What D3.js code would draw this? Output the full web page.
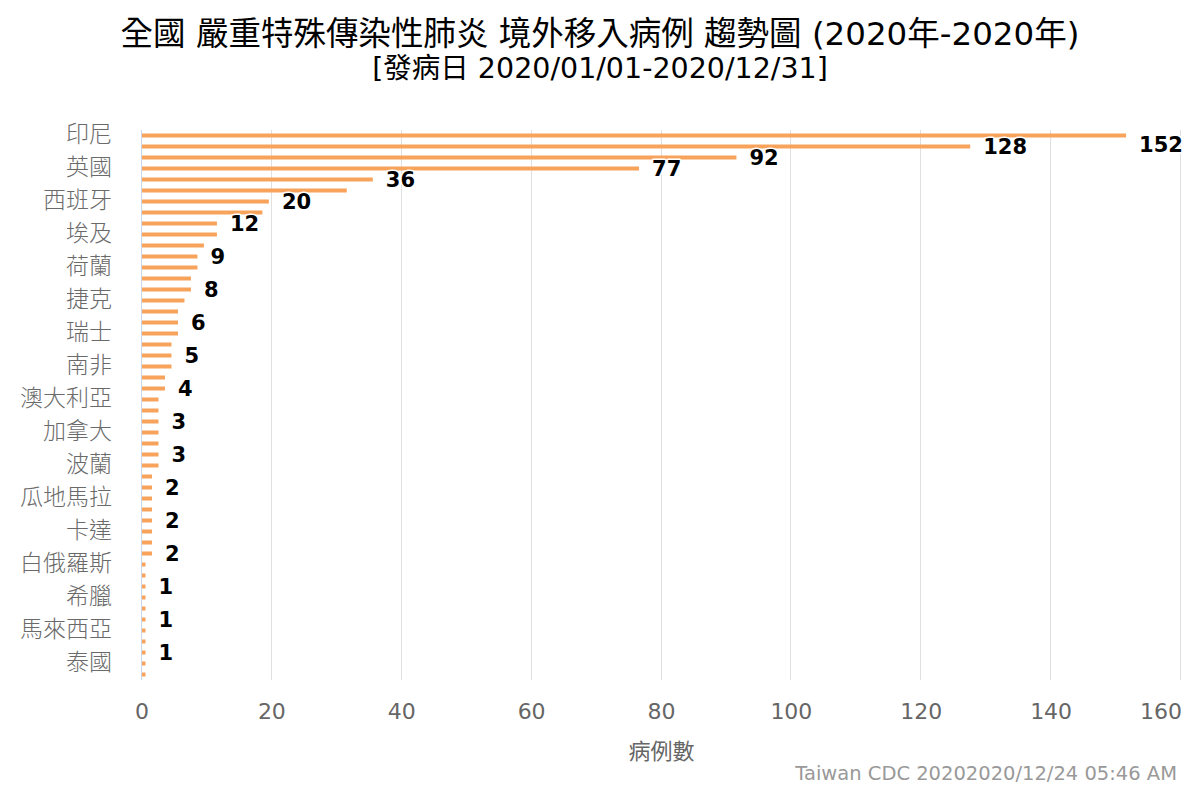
<!DOCTYPE html>
<html>
<head>
<meta charset="utf-8">
<script src="https://cdn.jsdelivr.net/npm/d3@7"></script>
<style>
  body { margin: 0; background: #fff; }
  text { font-family: "DejaVu Sans", "Noto Sans CJK TC", sans-serif; }
</style>
</head>
<body>
<svg width="1200" height="800"></svg>
<script>
// countries, sorted by imported cases (only every 3rd name is shown on the axis)
var countries = ["印尼","美國","菲律賓","英國","法國","印度","西班牙","日本","土耳其","埃及",
  "德國","巴基斯坦","荷蘭","瑞典","俄羅斯","捷克","巴西","比利時","瑞士","烏克蘭",
  "墨西哥","南非","越南","阿聯","澳大利亞","義大利","奧地利","加拿大","緬甸","巴拿馬",
  "波蘭","柬埔寨","孟加拉","瓜地馬拉","哥倫比亞","秘魯","卡達","匈牙利","愛爾蘭","白俄羅斯",
  "新加坡","紐西蘭","希臘","葡萄牙","以色列","馬來西亞","阿根廷","厄瓜多","泰國","韓國"];
var cases = [152,128,92,77,36,32,20,19,12,12,
  10,9,9,8,8,7,6,6,6,5,
  5,5,4,4,3,3,3,3,3,3,
  3,2,2,2,2,2,2,2,2,1,
  1,1,1,1,1,1,1,1,1,1];
var xTicks = [0,20,40,60,80,100,120,140,160];

var titleText = "全國 嚴重特殊傳染性肺炎 境外移入病例 趨勢圖 (2020年-2020年)";
var subtitleText = "[發病日 2020/01/01-2020/12/31]";
var xTitle = "病例數";
var credit = "Taiwan CDC 20202020/12/24 05:46 AM";

var svg = d3.select("svg");
var plotLeft = 142, plotRight = 1181, plotTop = 130, plotBottom = 680;

var x = d3.scaleLinear().domain([0, 160]).range([plotLeft, plotRight]);
var y = d3.scaleBand().domain(countries).range([plotTop, plotBottom]);

// titles
svg.append("text")
  .attr("x", 600).attr("y", 34)
  .attr("text-anchor", "middle").attr("dominant-baseline", "central")
  .attr("font-size", "32.5px").attr("fill", "#000")
  .text(titleText);
svg.append("text")
  .attr("x", 600).attr("y", 68)
  .attr("text-anchor", "middle").attr("dominant-baseline", "central")
  .attr("font-size", "28.5px").attr("fill", "#000")
  .text(subtitleText);

// grid lines, snapped to whole pixels
svg.append("g")
  .selectAll("line")
  .data(xTicks.slice(1))
  .enter()
  .append("line")
  .attr("x1", function(d) { return Math.round(x(d)) - 0.5; })
  .attr("x2", function(d) { return Math.round(x(d)) - 0.5; })
  .attr("y1", plotTop).attr("y2", plotBottom)
  .attr("stroke", "#e0e0e0").attr("stroke-width", 1);

// x tick labels (last one pulled back inside the chart)
svg.append("g")
  .selectAll("text")
  .data(xTicks)
  .enter()
  .append("text")
  .attr("x", function(d) { return x(d); })
  .attr("y", 711)
  .attr("text-anchor", "middle").attr("dominant-baseline", "central")
  .attr("font-size", "22px").attr("fill", "#666")
  .text(function(d) { return d; })
  .each(function() {
    var b = this.getBBox();
    if (b.x + b.width > 1182) d3.select(this).attr("text-anchor", "end").attr("x", 1182);
  });

svg.append("text")
  .attr("x", (plotLeft + plotRight) / 2).attr("y", 751)
  .attr("text-anchor", "middle").attr("dominant-baseline", "central")
  .attr("font-size", "22px").attr("fill", "#666")
  .text(xTitle);

// bars (white border eats a little of each end)
var barH = 4, border = 3;
svg.append("g")
  .selectAll("rect")
  .data(cases)
  .enter()
  .append("rect")
  .attr("x", x(0))
  .attr("y", function(d, i) { return y(countries[i]) + y.bandwidth() / 2 - barH / 2; })
  .attr("width", function(d) { return x(d) - x(0) - border; })
  .attr("height", barH)
  .attr("fill", "#f7a35c");

// y axis line and category labels (every 3rd)
svg.append("line")
  .attr("x1", plotLeft - 0.5).attr("x2", plotLeft - 0.5)
  .attr("y1", plotTop).attr("y2", plotBottom)
  .attr("stroke", "#ccd6eb").attr("stroke-width", 1);

svg.append("g")
  .selectAll("text")
  .data(countries.filter(function(d, i) { return i % 3 === 0; }))
  .enter()
  .append("text")
  .attr("x", 112)
  .attr("y", function(d) { return y(d) + y.bandwidth() / 2 - 2; })
  .attr("text-anchor", "end").attr("dominant-baseline", "central")
  .attr("font-size", "23px").attr("font-weight", 300).attr("fill", "#6a6a6a")
  .text(function(d) { return d; });

// data labels, hiding the ones that overlap an earlier label
var labelG = svg.append("g");
var shown = [];
cases.forEach(function(v, i) {
  var cy = Math.max(y(countries[i]) + y.bandwidth() / 2, plotTop + 15);
  var t = labelG.append("text")
    .attr("x", x(v) - border + 13)
    .attr("y", cy)
    .attr("dominant-baseline", "central")
    .attr("font-size", "21px").attr("font-weight", "bold")
    .attr("fill", "#000")
    .attr("stroke", "#fff").attr("stroke-width", 3)
    .attr("paint-order", "stroke")
    .attr("stroke-linejoin", "round")
    .text(v);
  var b = t.node().getBBox();
  var hit = shown.some(function(s) {
    return b.x < s.x + s.width && s.x < b.x + b.width &&
           b.y < s.y + s.height && s.y < b.y + b.height;
  });
  if (hit) t.remove(); else shown.push(b);
});

// credit
svg.append("text")
  .attr("x", 1177).attr("y", 773)
  .attr("text-anchor", "end").attr("dominant-baseline", "central")
  .attr("font-size", "19.5px").attr("fill", "#999")
  .text(credit);
</script>
</body>
</html>
